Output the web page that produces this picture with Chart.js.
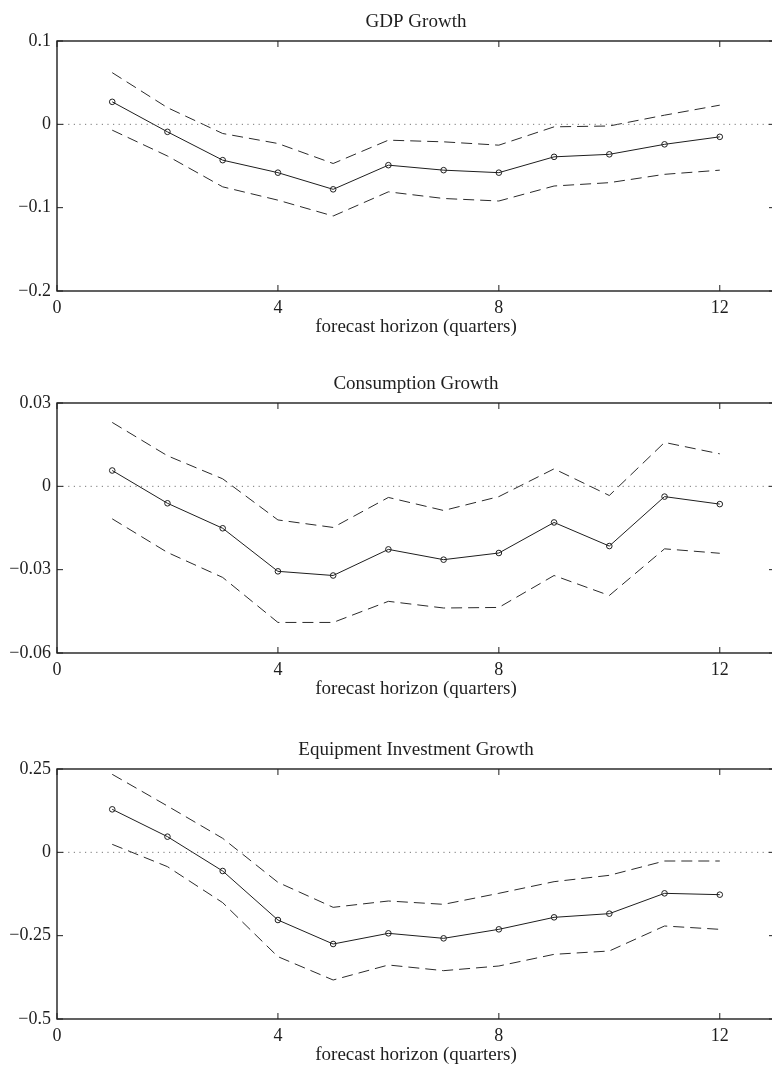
<!DOCTYPE html>
<html>
<head>
<meta charset="utf-8">
<script src="https://cdn.jsdelivr.net/npm/chart.js@4/dist/chart.umd.min.js"></script>
<style>
  html, body { margin: 0; padding: 0; background: #fff; overflow: hidden; width: 772px; height: 1065px; }
  .panel { position: absolute; left: 0; }
</style>
</head>
<body>
<canvas id="gdp" class="panel" style="top:0px"></canvas>
<canvas id="cons" class="panel" style="top:362px"></canvas>
<canvas id="equip" class="panel" style="top:728px"></canvas>
<script>
// Forecast horizons (quarters) and x-axis settings
const horizons = [1, 2, 3, 4, 5, 6, 7, 8, 9, 10, 11, 12];
const xLimits = [0, 13];
const xTicks = [0, 4, 8, 12];
const xTickLabels = ['0', '4', '8', '12'];

// GDP growth: point estimate and error bands
const gdpMid   = [0.027, -0.009, -0.043, -0.058, -0.078, -0.049, -0.055, -0.058, -0.039, -0.036, -0.024, -0.015];
const gdpUpper = [0.062, 0.020, -0.011, -0.023, -0.047, -0.019, -0.021, -0.025, -0.003, -0.002, 0.011, 0.023];
const gdpLower = [-0.007, -0.038, -0.075, -0.091, -0.110, -0.081, -0.089, -0.092, -0.074, -0.070, -0.060, -0.055];
const gdpTicks = [-0.2, -0.1, 0, 0.1];
const gdpTickLabels = ['\u22120.2', '\u22120.1', '0', '0.1'];

// Consumption growth
const consMid   = [0.0057, -0.0061, -0.0151, -0.0306, -0.0321, -0.0227, -0.0264, -0.0240, -0.0130, -0.0215, -0.0037, -0.0064];
const consUpper = [0.0230, 0.0110, 0.0027, -0.0121, -0.0148, -0.0040, -0.0087, -0.0037, 0.0063, -0.0033, 0.0158, 0.0117];
const consLower = [-0.0117, -0.0238, -0.0328, -0.0490, -0.0490, -0.0414, -0.0438, -0.0436, -0.0321, -0.0393, -0.0225, -0.0241];
const consTicks = [-0.06, -0.03, 0, 0.03];
const consTickLabels = ['\u22120.06', '\u22120.03', '0', '0.03'];

// Equipment investment growth
const equipMid   = [0.129, 0.047, -0.056, -0.203, -0.275, -0.243, -0.258, -0.231, -0.195, -0.184, -0.123, -0.127];
const equipUpper = [0.234, 0.139, 0.042, -0.090, -0.165, -0.146, -0.156, -0.123, -0.088, -0.069, -0.026, -0.026];
const equipLower = [0.024, -0.043, -0.151, -0.313, -0.383, -0.338, -0.355, -0.341, -0.306, -0.296, -0.221, -0.231];
const equipTicks = [-0.5, -0.25, 0, 0.25];
const equipTickLabels = ['\u22120.5', '\u22120.25', '0', '0.25'];

const INK = '#1e1e1e';
const FONT = 'Liberation Serif';
const CANVAS_W = 775, CANVAS_H = 345;
const PLOT_TOP = 41, PLOT_BOTTOM = 291, AXIS_LEFT = 57, TICK_LEN = 6;

Chart.defaults.font.family = FONT;
Chart.defaults.color = INK;

// Axes box with inward ticks on all four sides, plus the panel heading
const framePlugin = {
  id: 'frame',
  afterDraw(chart) {
    const { ctx, chartArea: a, scales: { x, y } } = chart;
    ctx.save();
    ctx.strokeStyle = INK;
    ctx.lineWidth = 1;
    ctx.beginPath();
    x.ticks.forEach(t => {
      const px = x.getPixelForValue(t.value);
      ctx.moveTo(px, a.bottom); ctx.lineTo(px, a.bottom - TICK_LEN);
      ctx.moveTo(px, a.top); ctx.lineTo(px, a.top + TICK_LEN);
    });
    y.ticks.forEach(t => {
      const py = y.getPixelForValue(t.value);
      ctx.moveTo(a.left, py); ctx.lineTo(a.left + TICK_LEN, py);
      ctx.moveTo(a.right, py); ctx.lineTo(a.right - TICK_LEN, py);
    });
    ctx.stroke();
    ctx.lineWidth = 1.4;
    ctx.strokeRect(a.left, a.top, a.right - a.left, a.bottom - a.top);
    const heading = chart.options.plugins.frame.heading;
    ctx.fillStyle = INK;
    ctx.font = '19px "' + FONT + '"';
    ctx.textAlign = 'center';
    ctx.textBaseline = 'alphabetic';
    ctx.fillText(heading, (a.left + a.right) / 2, a.top - 14);
    ctx.restore();
  }
};

function makePanel(id, heading, mid, upper, lower, yTicks, yTickLabels) {
  const canvas = document.getElementById(id);
  canvas.width = CANVAS_W; canvas.height = CANVAS_H;
  canvas.style.width = CANVAS_W + 'px'; canvas.style.height = CANVAS_H + 'px';
  const pts = vals => horizons.map((h, i) => ({ x: h, y: vals[i] }));
  const band = vals => ({
    data: pts(vals), borderColor: '#2a2a2a', borderWidth: 1, borderDash: [11, 6],
    pointRadius: 0, tension: 0, fill: false
  });
  new Chart(canvas, {
    type: 'line',
    data: {
      datasets: [
        {
          data: xLimits.map(v => ({ x: v, y: 0 })), borderColor: '#777', borderWidth: 1,
          borderDash: [1.2, 4.4], pointRadius: 0, tension: 0, fill: false
        },
        band(upper),
        band(lower),
        {
          data: pts(mid), borderColor: INK, borderWidth: 1, tension: 0, fill: false,
          pointRadius: 2.8, pointStyle: 'circle', pointBorderWidth: 1,
          pointBorderColor: INK, pointBackgroundColor: 'rgba(0,0,0,0)'
        }
      ]
    },
    options: {
      responsive: false,
      animation: false,
      devicePixelRatio: 1,
      layout: { autoPadding: false, padding: { top: PLOT_TOP, left: 0, right: 0, bottom: 0 } },
      plugins: {
        legend: { display: false },
        tooltip: { enabled: false },
        frame: { heading }
      },
      scales: {
        x: {
          type: 'linear', min: xLimits[0], max: xLimits[1],
          grid: { display: false, drawTicks: false },
          border: { display: false },
          afterBuildTicks: s => { s.ticks = xTicks.map(v => ({ value: v })); },
          afterFit: s => { s.height = CANVAS_H - PLOT_BOTTOM; s.paddingLeft = 0; s.paddingRight = 0; },
          ticks: {
            padding: 6, maxRotation: 0, autoSkip: false,
            font: { size: 18 },
            callback: (v, i) => xTickLabels[i]
          },
          title: {
            display: true, text: 'forecast horizon (quarters)',
            font: { size: 19 }, padding: { top: 0, bottom: 7 }
          }
        },
        y: {
          type: 'linear', min: yTicks[0], max: yTicks[yTicks.length - 1],
          grid: { display: false, drawTicks: false },
          border: { display: false },
          afterBuildTicks: s => { s.ticks = yTicks.map(v => ({ value: v })); },
          afterFit: s => { s.width = AXIS_LEFT; s.paddingTop = 0; s.paddingBottom = 0; },
          ticks: {
            padding: 6, autoSkip: false,
            font: { size: 18 },
            callback: (v, i) => yTickLabels[i]
          }
        }
      }
    },
    plugins: [framePlugin]
  });
}

makePanel('gdp', 'GDP Growth', gdpMid, gdpUpper, gdpLower, gdpTicks, gdpTickLabels);
makePanel('cons', 'Consumption Growth', consMid, consUpper, consLower, consTicks, consTickLabels);
makePanel('equip', 'Equipment Investment Growth', equipMid, equipUpper, equipLower, equipTicks, equipTickLabels);
</script>
</body>
</html>
